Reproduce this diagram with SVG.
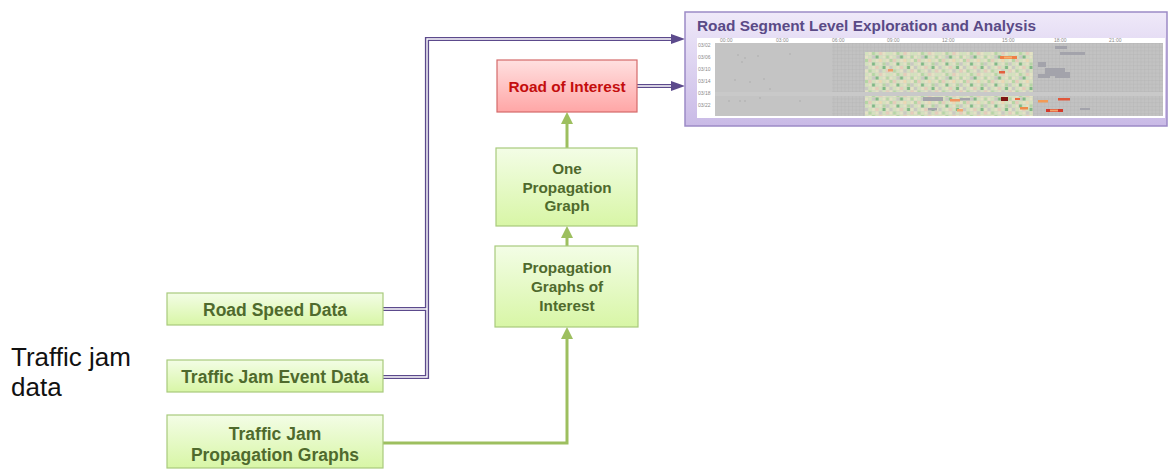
<svg xmlns="http://www.w3.org/2000/svg" width="1168" height="470" viewBox="0 0 1168 470">
<defs>
<linearGradient id="gGreen" x1="0" y1="0" x2="0" y2="1"><stop offset="0" stop-color="#f3fde6"/><stop offset="1" stop-color="#d8f6a6"/></linearGradient>
<linearGradient id="gRed" x1="0" y1="0" x2="0" y2="1"><stop offset="0" stop-color="#ffe0e0"/><stop offset="1" stop-color="#ffa6a6"/></linearGradient>
<linearGradient id="gPurple" x1="0" y1="0" x2="0" y2="1"><stop offset="0" stop-color="#efe9f9"/><stop offset="1" stop-color="#c9bae6"/></linearGradient>
<pattern id="grid" x="715" y="43" width="3.7" height="3.7" patternUnits="userSpaceOnUse"><rect width="3.7" height="3.7" fill="#c2c2c2"/><path d="M0,0H3.7M0,0V3.7" stroke="#b0b0b0" stroke-width="0.6"/></pattern>
<pattern id="cells" x="865" y="52" width="24.5" height="21" patternUnits="userSpaceOnUse">
<rect width="24.5" height="21" fill="#d3d6c4"/>
<g>
<rect x="0" y="0" width="3" height="3" fill="#d3e2bd"/><rect x="3.5" y="0" width="3" height="3" fill="#e4e2c4"/><rect x="7" y="0" width="3" height="3" fill="#b5d6a4"/><rect x="10.5" y="0" width="3" height="3" fill="#d3e2bd"/><rect x="14" y="0" width="3" height="3" fill="#e7cbb9"/><rect x="17.5" y="0" width="3" height="3" fill="#e4e2c4"/><rect x="21" y="0" width="3" height="3" fill="#d3e2bd"/>
<rect x="0" y="3.5" width="3" height="3" fill="#e4e2c4"/><rect x="3.5" y="3.5" width="3" height="3" fill="#d3e2bd"/><rect x="7" y="3.5" width="3" height="3" fill="#c9c9c2"/><rect x="10.5" y="3.5" width="3" height="3" fill="#7fb985"/><rect x="14" y="3.5" width="3" height="3" fill="#d3e2bd"/><rect x="17.5" y="3.5" width="3" height="3" fill="#e4e2c4"/><rect x="21" y="3.5" width="3" height="3" fill="#b5d6a4"/>
<rect x="0" y="7" width="3" height="3" fill="#b5d6a4"/><rect x="3.5" y="7" width="3" height="3" fill="#e7cbb9"/><rect x="7" y="7" width="3" height="3" fill="#d3e2bd"/><rect x="10.5" y="7" width="3" height="3" fill="#e4e2c4"/><rect x="14" y="7" width="3" height="3" fill="#ecd8b2"/><rect x="17.5" y="7" width="3" height="3" fill="#d3e2bd"/><rect x="21" y="7" width="3" height="3" fill="#e4e2c4"/>
<rect x="0" y="10.5" width="3" height="3" fill="#d3e2bd"/><rect x="3.5" y="10.5" width="3" height="3" fill="#e4e2c4"/><rect x="7" y="10.5" width="3" height="3" fill="#7fb985"/><rect x="10.5" y="10.5" width="3" height="3" fill="#d3e2bd"/><rect x="14" y="10.5" width="3" height="3" fill="#e4e2c4"/><rect x="17.5" y="10.5" width="3" height="3" fill="#b5d6a4"/><rect x="21" y="10.5" width="3" height="3" fill="#c9c9c2"/>
<rect x="0" y="14" width="3" height="3" fill="#c9c9c2"/><rect x="3.5" y="14" width="3" height="3" fill="#d3e2bd"/><rect x="7" y="14" width="3" height="3" fill="#e4e2c4"/><rect x="10.5" y="14" width="3" height="3" fill="#e7cbb9"/><rect x="14" y="14" width="3" height="3" fill="#d3e2bd"/><rect x="17.5" y="14" width="3" height="3" fill="#7fb985"/><rect x="21" y="14" width="3" height="3" fill="#e4e2c4"/>
<rect x="0" y="17.5" width="3" height="3" fill="#e4e2c4"/><rect x="3.5" y="17.5" width="3" height="3" fill="#b5d6a4"/><rect x="7" y="17.5" width="3" height="3" fill="#d3e2bd"/><rect x="10.5" y="17.5" width="3" height="3" fill="#e4e2c4"/><rect x="14" y="17.5" width="3" height="3" fill="#c9c9c2"/><rect x="17.5" y="17.5" width="3" height="3" fill="#d3e2bd"/><rect x="21" y="17.5" width="3" height="3" fill="#e7cbb9"/>
</g>
</pattern>
</defs>
<style>
.gbox{fill:url(#gGreen);stroke:#a8ca7c;stroke-width:1.2}
.gtxt{font-family:"Liberation Sans",Arial,sans-serif;font-weight:bold;fill:#4f6a2d;text-anchor:middle}
.big{font-size:17.5px}
.mid{font-size:15.3px}
.pout{fill:none;stroke:#5c4a8c;stroke-width:4.2}
.pin{fill:none;stroke:#ffffff;stroke-width:1.4}
.parrow{fill:#5c4a8c}
.gline{fill:none;stroke:#9dbf5f;stroke-width:3}
.garrow{fill:#9dbf5f}
.tiny{font-family:"Liberation Sans",Arial,sans-serif;font-size:5px;fill:#8a8a8a}
</style>

<text x="11" y="366" font-family="Liberation Sans, Arial, sans-serif" font-size="26px" fill="#111">Traffic jam</text>
<text x="11" y="396" font-family="Liberation Sans, Arial, sans-serif" font-size="26px" fill="#111">data</text>

<g id="connectors">
<path class="pout" d="M383,309H427"/>
<path class="pout" d="M383,377H427V39H674"/>
<path class="pout" d="M637,86H674"/>
<path class="pin" d="M383,309H427"/>
<path class="pin" d="M383,377H427V39H674"/>
<path class="pin" d="M637,86H674"/>
<polygon class="parrow" points="671,34 685,39 671,44"/>
<polygon class="parrow" points="671,81 685,86 671,91"/>
<path class="gline" d="M383,443H567V338"/>
<polygon class="garrow" points="561,339 567,327 573,339"/>
<path class="gline" d="M567,246V237"/>
<polygon class="garrow" points="561,238 567,226 573,238"/>
<path class="gline" d="M567,148V123"/>
<polygon class="garrow" points="561,124 567,112 573,124"/>
</g>

<g id="node-road-speed">
<rect class="gbox" x="167" y="293" width="216" height="32"/>
<text class="gtxt big" x="275" y="316">Road Speed Data</text>
</g>
<g id="node-jam-event">
<rect class="gbox" x="167" y="360" width="216" height="32"/>
<text class="gtxt big" x="275" y="383">Traffic Jam Event Data</text>
</g>
<g id="node-jam-graphs">
<rect class="gbox" x="167" y="415" width="216" height="53"/>
<text class="gtxt big" x="275" y="440">Traffic Jam</text>
<text class="gtxt big" x="275" y="461">Propagation Graphs</text>
</g>
<g id="node-graphs-interest">
<rect class="gbox" x="495" y="246" width="143" height="81"/>
<text class="gtxt mid" x="567" y="273">Propagation</text>
<text class="gtxt mid" x="567" y="292">Graphs of</text>
<text class="gtxt mid" x="567" y="311">Interest</text>
</g>
<g id="node-one-graph">
<rect class="gbox" x="496" y="148" width="141" height="78"/>
<text class="gtxt mid" x="567" y="174">One</text>
<text class="gtxt mid" x="567" y="193">Propagation</text>
<text class="gtxt mid" x="567" y="211">Graph</text>
</g>
<g id="node-road-interest">
<rect x="497" y="60" width="140" height="52" fill="url(#gRed)" stroke="#d46a6a" stroke-width="1.2"/>
<text x="567" y="92" font-family="Liberation Sans, Arial, sans-serif" font-weight="bold" font-size="15.4px" fill="#c40d0d" text-anchor="middle">Road of Interest</text>
</g>

<g id="node-analysis-panel">
<rect x="685" y="12" width="482" height="114" fill="url(#gPurple)" stroke="#9c8ac6" stroke-width="1.5"/>
<text x="697" y="31" font-family="Liberation Sans, Arial, sans-serif" font-weight="bold" font-size="15.4px" fill="#5a4a86">Road Segment Level Exploration and Analysis</text>
<rect x="697" y="38" width="468" height="80" fill="#ffffff"/>
<rect x="715" y="43" width="448" height="73" fill="#c4c4c4"/>
<rect x="832" y="43" width="331" height="73" fill="url(#grid)"/>
<rect x="715" y="92" width="448" height="4" fill="#c9c9c9"/>
<rect x="865" y="52" width="168" height="40" fill="url(#cells)"/>
<rect x="865" y="96" width="168" height="20" fill="url(#cells)"/>
<g fill="#a3a3ab">
<rect x="1038" y="62" width="8" height="5"/><rect x="1045" y="68" width="20" height="8"/><rect x="1055" y="72" width="15" height="6"/><rect x="1038" y="74" width="12" height="4"/><rect x="1060" y="52" width="25" height="3"/><rect x="1055" y="46" width="12" height="3"/>
<rect x="923" y="97" width="20" height="4"/><rect x="960" y="98" width="10" height="2.5"/><rect x="928" y="108" width="9" height="2.5"/><rect x="1080" y="108" width="10" height="2"/>
</g>
<g fill="#aaa">
<circle cx="738" cy="55" r="0.8"/><circle cx="745" cy="58" r="0.8"/><circle cx="758" cy="56" r="0.8"/><circle cx="742" cy="62" r="0.8"/><circle cx="790" cy="54" r="0.8"/><circle cx="735" cy="80" r="0.8"/><circle cx="750" cy="82" r="0.8"/><circle cx="764" cy="79" r="0.8"/><circle cx="729" cy="101" r="0.8"/><circle cx="740" cy="101" r="0.8"/><circle cx="745" cy="101" r="0.8"/><circle cx="760" cy="98" r="0.8"/><circle cx="800" cy="101" r="0.8"/><circle cx="770" cy="89" r="0.8"/>
</g>
<rect x="1000" y="56" width="17" height="3" fill="#ef7f45"/>
<rect x="1004" y="56.5" width="8" height="2" fill="#f6b06a"/>
<rect x="999" y="71" width="6" height="2.5" fill="#e2603e"/>
<rect x="888" y="69" width="5" height="2.5" fill="#f09a68"/>
<rect x="1001" y="97" width="7" height="4" fill="#7d1414"/>
<rect x="1015" y="98" width="5" height="2" fill="#ec6a3e"/>
<rect x="1020" y="107" width="8" height="2.5" fill="#ee8a48"/>
<rect x="1038" y="100" width="10" height="2.5" fill="#f29a55"/>
<rect x="1058" y="98" width="12" height="2.5" fill="#e0573a"/>
<rect x="1046" y="109" width="17" height="3" fill="#d33a2c"/>
<rect x="1050" y="109.5" width="8" height="2" fill="#f4a36a"/>
<rect x="950" y="99" width="10" height="2.5" fill="#f19460"/>
<rect x="957" y="109" width="6" height="2.5" fill="#f3a870"/>
<text class="tiny" x="720" y="42">00:00</text>
<text class="tiny" x="776" y="42">03:00</text>
<text class="tiny" x="832" y="42">06:00</text>
<text class="tiny" x="887" y="42">09:00</text>
<text class="tiny" x="942" y="42">12:00</text>
<text class="tiny" x="1002" y="42">15:00</text>
<text class="tiny" x="1054" y="42">18:00</text>
<text class="tiny" x="1109" y="42">21:00</text>
<text class="tiny" x="698" y="47">03/02</text>
<text class="tiny" x="698" y="59">03/06</text>
<text class="tiny" x="698" y="71">03/10</text>
<text class="tiny" x="698" y="83">03/14</text>
<text class="tiny" x="698" y="95">03/18</text>
<text class="tiny" x="698" y="107">03/22</text>
</g>
</svg>
